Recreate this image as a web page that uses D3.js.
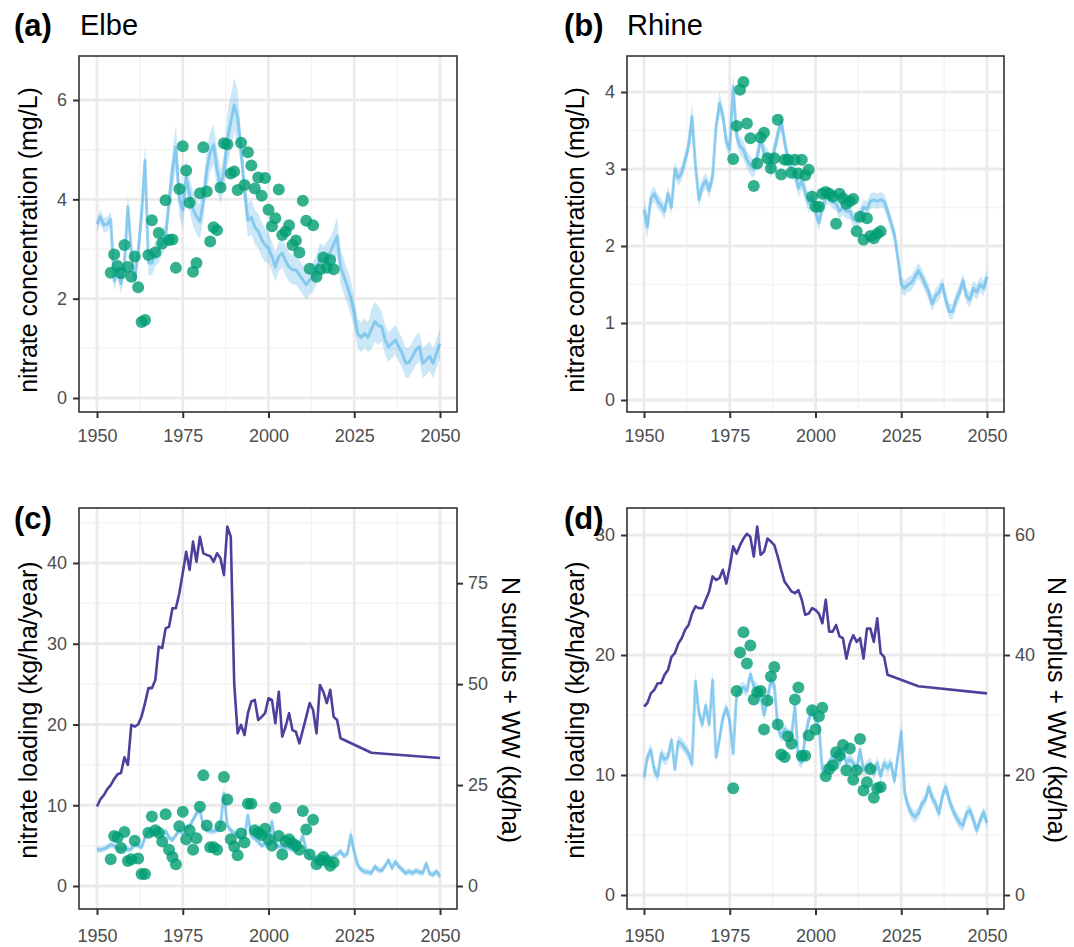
<!DOCTYPE html>
<html>
<head>
<meta charset="utf-8">
<script src="https://cdn.jsdelivr.net/npm/d3@7"></script>
<style>
	body { margin: 0; background: #fff; }
	svg text { font-family: "Liberation Sans", Arial, sans-serif; }
</style>
</head>
<body>
<svg id="chart" width="1074" height="947"></svg>
<script>
const years = d3.range(1950, 2051)

// (a) Elbe: modelled nitrate concentration (mg/L) and half-width of its band
const elbeConc = [
	3.5, 3.65, 3.48, 3.5, 3.6, 2.35, 2.62, 2.3, 2.7, 3.85,
	2.95, 2.38, 2.95, 3.7, 4.78, 2.72, 2.72, 2.9, 2.97, 3.15,
	3.25, 3.95, 4.6, 5.05, 4.0, 3.78, 4.45, 4.1, 3.8, 3.65,
	3.55, 3.95, 4.6, 4.95, 5.1, 4.6, 4.25, 4.55, 5.2, 5.55,
	5.9, 5.65, 5.0, 4.18, 3.58, 3.64, 3.44, 3.36, 3.2, 3.08,
	3.02, 2.85, 2.64, 2.85, 2.92, 2.76, 2.64, 2.58, 2.58, 2.48,
	2.38, 2.28, 2.38, 2.44, 2.58, 2.82, 2.76, 2.84, 2.94, 3.1,
	3.25, 2.64, 2.44, 2.24, 2.02, 1.7, 1.3, 1.22, 1.3, 1.22,
	1.38, 1.54, 1.46, 1.44, 1.17, 1.03, 1.1, 1.17, 1.03, 0.9,
	0.7, 0.72, 0.84, 0.97, 1.03, 0.7, 0.77, 0.84, 0.7, 0.9,
	1.1,
]
const elbeConcSpread = [
	0.15, 0.15, 0.15, 0.15, 0.15, 0.2, 0.2, 0.2, 0.2, 0.25,
	0.2, 0.2, 0.2, 0.3, 0.35, 0.25, 0.25, 0.25, 0.25, 0.25,
	0.25, 0.3, 0.4, 0.45, 0.35, 0.35, 0.35, 0.35, 0.35, 0.35,
	0.35, 0.35, 0.4, 0.4, 0.4, 0.4, 0.35, 0.35, 0.55, 0.55,
	0.55, 0.55, 0.35, 0.35, 0.35, 0.35, 0.35, 0.35, 0.35, 0.35,
	0.3, 0.3, 0.3, 0.3, 0.3, 0.3, 0.3, 0.3, 0.3, 0.3,
	0.3, 0.3, 0.3, 0.3, 0.3, 0.3, 0.3, 0.3, 0.3, 0.3,
	0.4, 0.35, 0.35, 0.35, 0.35, 0.3, 0.3, 0.3, 0.3, 0.3,
	0.4, 0.4, 0.4, 0.3, 0.3, 0.3, 0.3, 0.3, 0.3, 0.3,
	0.3, 0.3, 0.3, 0.3, 0.3, 0.3, 0.3, 0.3, 0.3, 0.3,
	0.3,
]
const elbeObsYears = d3.range(1954, 2020)
const elbeObsConc = [
	2.52, 2.89, 2.66, 2.51, 3.08, 2.64, 2.44, 2.85, 2.23, 1.53,
	1.57, 2.88, 3.58, 2.93, 3.32, 3.11, 3.98, 3.18, 3.19, 2.62,
	4.21, 5.07, 4.58, 3.93, 2.54, 2.72, 4.12, 5.05, 4.16, 3.15,
	3.44, 3.38, 4.24, 5.13, 5.11, 4.52, 4.56, 4.19, 5.14, 4.29,
	4.95, 4.68, 4.22, 4.44, 4.07, 4.43, 3.79, 3.46, 3.62, 4.2,
	3.28, 3.35, 3.48, 3.08, 3.17, 2.93, 3.97, 3.57, 2.6, 3.48,
	2.44, 2.59, 2.83, 2.62, 2.78, 2.59,
]

// (b) Rhine: modelled nitrate concentration (mg/L)
const rhineConc = [
	2.47, 2.25, 2.62, 2.68, 2.58, 2.52, 2.45, 2.68, 2.5, 3.0,
	2.88, 2.95, 3.12, 3.3, 3.68, 3.05, 2.6, 2.78, 2.85, 2.72,
	2.9, 3.55, 3.85, 3.7, 3.35, 3.25, 4.07, 3.42, 3.3, 3.25,
	3.12, 3.05, 3.0, 3.15, 3.4, 3.2, 3.15, 3.0, 3.25, 3.45,
	3.62, 3.35, 3.12, 3.0, 2.95, 2.75, 2.85, 2.7, 2.55, 2.65,
	2.45, 2.3, 2.5, 2.62, 2.65, 2.58, 2.55, 2.45, 2.5, 2.45,
	2.45, 2.35, 2.32, 2.4, 2.5, 2.48, 2.58, 2.6, 2.58, 2.6,
	2.58, 2.45, 2.3, 2.15, 1.85, 1.5, 1.45, 1.5, 1.52, 1.6,
	1.68, 1.6, 1.5, 1.4, 1.25, 1.35, 1.4, 1.5, 1.3, 1.15,
	1.15, 1.3, 1.4, 1.55, 1.35, 1.3, 1.45, 1.4, 1.5, 1.45,
	1.6,
]
const rhineConcSpread = [
	0.15, 0.15, 0.1, 0.1, 0.1, 0.1, 0.1, 0.1, 0.1, 0.1,
	0.1, 0.1, 0.1, 0.1, 0.2, 0.1, 0.1, 0.1, 0.1, 0.1,
	0.1, 0.1, 0.15, 0.1, 0.1, 0.1, 0.18, 0.12, 0.12, 0.12,
	0.12, 0.12, 0.12, 0.12, 0.12, 0.12, 0.12, 0.12, 0.12, 0.12,
	0.12, 0.12, 0.12, 0.12, 0.12, 0.12, 0.12, 0.12, 0.12, 0.12,
	0.1, 0.1, 0.1, 0.1, 0.1, 0.1, 0.1, 0.1, 0.1, 0.1,
	0.1, 0.1, 0.1, 0.1, 0.1, 0.1, 0.1, 0.1, 0.1, 0.1,
	0.1, 0.1, 0.1, 0.1, 0.1, 0.1, 0.1, 0.1, 0.1, 0.1,
	0.1, 0.1, 0.1, 0.1, 0.1, 0.1, 0.1, 0.1, 0.1, 0.1,
	0.1, 0.1, 0.1, 0.1, 0.1, 0.1, 0.1, 0.1, 0.1, 0.1,
	0.1,
]
const rhineObsYears = d3.range(1976, 2020)
const rhineObsConc = [
	3.13, 3.56, 4.03, 4.13, 3.59, 3.4, 2.78, 3.07, 3.41, 3.47,
	3.14, 3.01, 3.14, 3.64, 2.93, 3.12, 3.12, 2.95, 3.12, 2.94,
	3.12, 2.92, 2.99, 2.64, 2.51, 2.51, 2.68, 2.7, 2.68, 2.64,
	2.29, 2.68, 2.62, 2.55, 2.58, 2.61, 2.19, 2.38, 2.08, 2.36,
	2.13, 2.1, 2.16, 2.19,
]

// (c) Elbe: modelled nitrate loading (kg/ha/year)
const elbeLoad = [
	4.5, 4.5, 4.6, 4.8, 5.1, 5.0, 4.6, 4.5, 4.8, 4.5,
	4.6, 5.2, 5.0, 4.8, 6.0, 6.9, 6.3, 6.6, 6.9, 6.2,
	6.8, 6.0, 5.7, 6.3, 6.9, 6.5, 7.2, 7.4, 8.2, 9.0,
	9.4, 7.5, 6.9, 6.8, 6.8, 6.9, 7.5, 11.5, 7.5, 6.9,
	6.5, 6.3, 5.8, 6.0, 8.8, 6.2, 5.9, 5.5, 5.0, 5.2,
	5.0, 8.0, 5.1, 4.9, 4.8, 4.8, 4.7, 4.5, 4.4, 5.2,
	6.2, 4.5, 3.6, 3.4, 3.2, 3.2, 3.2, 3.3, 3.5, 3.6,
	3.9, 4.3, 3.7, 4.0, 6.3, 4.2, 2.6, 2.0, 1.8, 1.7,
	1.6, 2.4, 2.0, 1.9, 2.5, 3.2, 2.2, 3.0, 2.4, 2.0,
	1.6, 1.8, 1.6, 1.9, 1.7, 1.6, 2.8, 1.5, 1.4, 1.8,
	1.2,
]
const elbeLoadSpread = [
	0.4, 0.4, 0.4, 0.4, 0.4, 0.4, 0.4, 0.4, 0.4, 0.4,
	0.4, 0.4, 0.4, 0.4, 0.4, 0.4, 0.4, 0.4, 0.4, 0.4,
	0.4, 0.4, 0.4, 0.4, 0.4, 0.4, 0.4, 0.4, 0.4, 0.4,
	0.4, 0.4, 0.4, 0.4, 0.4, 0.4, 0.5, 0.9, 0.4, 0.4,
	0.4, 0.4, 0.4, 0.4, 0.4, 0.4, 0.4, 0.4, 0.4, 0.4,
	0.4, 0.6, 0.4, 0.4, 0.4, 0.4, 0.4, 0.4, 0.4, 0.4,
	0.6, 0.4, 0.4, 0.4, 0.4, 0.4, 0.4, 0.4, 0.4, 0.4,
	0.4, 0.4, 0.4, 0.4, 0.9, 0.4, 0.4, 0.4, 0.4, 0.4,
	0.4, 0.4, 0.4, 0.4, 0.4, 0.4, 0.4, 0.4, 0.4, 0.4,
	0.4, 0.4, 0.4, 0.4, 0.4, 0.4, 0.4, 0.4, 0.4, 0.4,
	0.4,
]
const elbeLoadObs = [
	3.3, 6.2, 6.0, 4.7, 6.7, 3.1, 3.3, 5.6, 3.4, 1.5,
	1.5, 6.6, 8.6, 6.9, 6.6, 5.5, 8.9, 4.5, 3.6, 2.7,
	7.4, 9.2, 5.8, 6.9, 4.5, 5.9, 9.8, 13.7, 7.5, 4.8,
	4.8, 4.5, 7.4, 13.5, 10.7, 5.8, 4.9, 3.8, 6.5, 5.4,
	10.2, 10.2, 6.9, 6.6, 6.3, 7.1, 5.8, 5.0, 9.7, 6.2,
	3.9, 5.5, 5.8, 5.3, 5.0, 4.5, 9.3, 7.0, 3.9, 8.2,
	2.7, 3.2, 3.6, 3.1, 2.5, 2.9,
]
// N surplus + waste water (kg/ha), right-hand axis
const elbeSurplusYears = [...d3.range(1950, 2022), 2030, 2050]
const elbeSurplus = [
	19.7, 21.5, 22.5, 24, 25, 26.5, 27.7, 28, 31.9, 30,
	39.9, 39.5, 40, 42, 45.3, 49, 49, 51, 59.3, 58.9,
	63.8, 64.2, 68.8, 68.8, 72.5, 77.5, 82.8, 78.3, 85.3, 80.3,
	86.5, 82.4, 82, 81.7, 80.3, 82.4, 81.2, 77, 89, 86.5,
	50.2, 37.8, 39.9, 37.4, 42.8, 45.7, 46.1, 41.1, 41.9, 42.8,
	46.5, 46.1, 40.3, 48.1, 37, 39.5, 42.8, 38.6, 38.2, 35.3,
	38.6, 41.9, 45.3, 43.6, 37.8, 49.8, 48.1, 45.3, 48.6, 41.9,
	41.1, 36.6, 33, 31.7,
]

// (d) Rhine: modelled nitrate loading (kg/ha/year)
const rhineLoad = [
	9.8, 11.5, 12.1, 10.4, 9.9, 11.8, 11.3, 11.5, 12.9, 10.5,
	12.8, 12.6, 12.2, 11.8, 10.9, 17.8, 15.2, 14.2, 15.8, 14.2,
	17.9, 11.5, 13.0, 14.8, 15.6, 14.5, 11.8, 16.8, 17.1, 17.3,
	17.0, 18.4, 17.4, 17.2, 16.6, 15.0, 16.3, 17.9, 17.5, 14.0,
	13.2, 13.8, 13.4, 13.2, 15.8, 11.3, 11.0, 13.2, 14.6, 15.4,
	14.6, 14.0, 10.4, 10.4, 11.0, 11.5, 11.0, 11.0, 12.1, 11.0,
	11.3, 11.0, 10.4, 12.1, 10.4, 10.7, 11.0, 10.1, 11.0, 9.9,
	11.0, 10.6, 11.0, 9.5, 11.5, 13.6, 8.5, 7.4, 6.8, 6.5,
	6.8, 7.6, 7.9, 9.0, 8.1, 7.6, 6.8, 8.3, 9.0, 7.9,
	7.1, 6.5, 6.0, 5.8, 6.8, 7.1, 6.3, 5.4, 6.2, 6.9,
	6.0,
]
const rhineLoadSpread = [
	0.5, 0.5, 0.5, 0.5, 0.5, 0.5, 0.5, 0.5, 0.5, 0.5,
	0.5, 0.5, 0.5, 0.5, 0.5, 0.9, 0.5, 0.5, 0.5, 0.5,
	0.9, 0.5, 0.5, 0.5, 0.5, 0.5, 0.5, 0.5, 0.5, 0.5,
	0.5, 0.5, 0.5, 0.5, 0.5, 0.5, 0.5, 0.5, 0.5, 0.5,
	0.5, 0.5, 0.5, 0.5, 0.5, 0.5, 0.5, 0.5, 0.5, 0.5,
	0.5, 0.5, 0.5, 0.5, 0.5, 0.5, 0.5, 0.5, 0.5, 0.5,
	0.5, 0.5, 0.5, 0.5, 0.5, 0.5, 0.5, 0.5, 0.5, 0.5,
	0.5, 0.5, 0.5, 0.5, 0.5, 0.9, 0.5, 0.5, 0.5, 0.5,
	0.5, 0.5, 0.5, 0.5, 0.5, 0.5, 0.5, 0.5, 0.5, 0.5,
	0.5, 0.5, 0.5, 0.5, 0.5, 0.5, 0.5, 0.5, 0.5, 0.5,
	0.5,
]
const rhineLoadObs = [
	8.9, 17.0, 20.2, 21.9, 19.3, 20.8, 16.3, 16.9, 17.0, 13.8,
	16.2, 18.2, 19.0, 14.2, 11.7, 11.5, 13.2, 12.6, 16.3, 17.3,
	11.6, 11.6, 13.3, 15.4, 13.8, 14.9, 15.6, 9.9, 10.5, 10.8,
	11.9, 11.6, 12.5, 10.4, 12.2, 9.6, 10.4, 13.0, 8.7, 9.4,
	10.5, 8.1, 8.9, 9.0,
]
const rhineSurplusYears = [...d3.range(1950, 2022), 2030, 2050]
const rhineSurplus = [
	31.4, 32, 33.6, 34.2, 35.3, 35.3, 36.7, 37.5, 39.7, 40.3,
	41.9, 42.8, 44.2, 45, 46.9, 48.1, 47.8, 47.8, 49.2, 50.6,
	53.1, 52.5, 52.8, 54.2, 51.9, 54.7, 58.1, 56.9, 58.3, 59.4,
	60.2, 59.7, 56.4, 61.4, 56.7, 57.2, 59.4, 58.9, 58.3, 56.4,
	54.2, 52.2, 51.4, 50.6, 50.3, 50.8, 49.2, 46.7, 46.9, 47.8,
	47.5, 46.9, 45.3, 49.2, 43.9, 43.9, 45, 43.1, 42.8, 39.4,
	41.9, 43.3, 42.2, 42.8, 39.4, 44.4, 44.4, 42.2, 46.1, 40.3,
	39.7, 36.7, 34.8, 33.6,
]

const xTicks = [1950, 1975, 2000, 2025, 2050]
const xMinor = [1962.5, 1987.5, 2012.5, 2037.5]


const config = {
	cols: [
		{ x0: 79, x1: 457, range: [97, 440], tagX: 14, titleX: 80, yLabelX: 28, secLabelX: 511 },
		{ x0: 627, x1: 1004, range: [644, 987], tagX: 564, titleX: 627, yLabelX: 575, secLabelX: 1057 },
	],
	rows: [
		{ y0: 56, y1: 412, tagY: 36, labelY: 240 },
		{ y0: 508, y1: 909, tagY: 529, labelY: 710 },
	],
	colour: {
		model: "#56B4E9",
		obs: "#009E73",
		surplus: "#4E3F9C",
		major: "#EBEBEB",
		minor: "#F3F3F3",
		border: "#333333",
		tickText: "#4D4D4D",
	},
	tickFont: 18,
	labelFont: 25,
	tagFont: 31,
	titleFont: 29,
	pointRadius: 6,
}

const panels = [
	{
		tag: "(a)", title: "Elbe", col: 0, row: 0,
		yRange: [398, 100], yTicks: [0, 2, 4, 6], yMinor: [1, 3, 5],
		yLabel: "nitrate concentration (mg/L)",
		mid: elbeConc, spread: elbeConcSpread, obsYears: elbeObsYears, obs: elbeObsConc,
	},
	{
		tag: "(b)", title: "Rhine", col: 1, row: 0,
		yRange: [400, 92], yTicks: [0, 1, 2, 3, 4], yMinor: [0.5, 1.5, 2.5, 3.5],
		yLabel: "nitrate concentration (mg/L)",
		mid: rhineConc, spread: rhineConcSpread, obsYears: rhineObsYears, obs: rhineObsConc,
	},
	{
		tag: "(c)", title: "", col: 0, row: 1,
		yRange: [886, 563], yTicks: [0, 10, 20, 30, 40], yMinor: [5, 15, 25, 35, 45],
		yLabel: "nitrate loading (kg/ha/year)",
		mid: elbeLoad, spread: elbeLoadSpread, obsYears: elbeObsYears, obs: elbeLoadObs,
		surplusYears: elbeSurplusYears, surplus: elbeSurplus, secTicks: [0, 25, 50, 75],
	},
	{
		tag: "(d)", title: "", col: 1, row: 1,
		yRange: [895, 535], yTicks: [0, 10, 20, 30], yMinor: [5, 15, 25],
		yLabel: "nitrate loading (kg/ha/year)",
		mid: rhineLoad, spread: rhineLoadSpread, obsYears: rhineObsYears, obs: rhineLoadObs,
		surplusYears: rhineSurplusYears, surplus: rhineSurplus, secTicks: [0, 20, 40, 60],
	},
]


const svg = d3.select("#chart")
svg.append("rect").attr("width", 1074).attr("height", 947).attr("fill", "#fff")
const defs = svg.append("defs")

panels.forEach((p, i) => drawPanel(p, i))


function drawPanel(p, i) {
	const col = config.cols[p.col]
	const row = config.rows[p.row]
	const c = config.colour

	const x = d3.scaleLinear().domain([1950, 2050]).range(col.range)
	// first tick value maps to yRange[0], last to yRange[1]
	const y = d3.scaleLinear()
		.domain([p.yTicks[0], p.yTicks[p.yTicks.length - 1]])
		.range(p.yRange)

	defs.append("clipPath")
		.attr("id", `clip_${i}`)
		.append("rect")
		.attr("x", col.x0)
		.attr("y", row.y0)
		.attr("width", col.x1 - col.x0)
		.attr("height", row.y1 - row.y0)

	const g = svg.append("g").attr("class", `panel_${i}`)
	const plot = g.append("g").attr("clip-path", `url(#clip_${i})`)

	// Grid: minor first, then major
	plot.selectAll("line.xminor")
		.data(xMinor)
		.join("line")
		.attr("class", "xminor")
		.attr("x1", d => x(d)).attr("x2", d => x(d))
		.attr("y1", row.y0).attr("y2", row.y1)
		.attr("stroke", c.minor).attr("stroke-width", 1.4)
	plot.selectAll("line.yminor")
		.data(p.yMinor)
		.join("line")
		.attr("class", "yminor")
		.attr("x1", col.x0).attr("x2", col.x1)
		.attr("y1", d => y(d)).attr("y2", d => y(d))
		.attr("stroke", c.minor).attr("stroke-width", 1.4)
	plot.selectAll("line.xmajor")
		.data(xTicks)
		.join("line")
		.attr("class", "xmajor")
		.attr("x1", d => x(d)).attr("x2", d => x(d))
		.attr("y1", row.y0).attr("y2", row.y1)
		.attr("stroke", c.major).attr("stroke-width", 2.8)
	plot.selectAll("line.ymajor")
		.data(p.yTicks)
		.join("line")
		.attr("class", "ymajor")
		.attr("x1", col.x0).attr("x2", col.x1)
		.attr("y1", d => y(d)).attr("y2", d => y(d))
		.attr("stroke", c.major).attr("stroke-width", 2.8)

	// Model band and median
	const model = years.map((yr, j) => ({
		yr,
		mid: p.mid[j],
		lo: p.mid[j] - p.spread[j],
		hi: p.mid[j] + p.spread[j],
	}))
	plot.append("path")
		.datum(model)
		.attr("d", d3.area()
			.x(d => x(d.yr))
			.y0(d => y(d.lo))
			.y1(d => y(d.hi)))
		.attr("fill", c.model)
		.attr("fill-opacity", 0.3)
	plot.append("path")
		.datum(model)
		.attr("d", d3.line()
			.x(d => x(d.yr))
			.y(d => y(d.mid)))
		.attr("fill", "none")
		.attr("stroke", c.model)
		.attr("stroke-opacity", 0.6)
		.attr("stroke-width", 3)
		.attr("stroke-linejoin", "round")

	// N surplus line on the secondary axis (secondary = 2 x primary)
	let ySec = null
	if (p.surplus) {
		ySec = d3.scaleLinear()
			.domain(y.domain().map(v => v * 2))
			.range(y.range())
		plot.append("path")
			.datum(p.surplusYears.map((yr, j) => ({ yr, v: p.surplus[j] })))
			.attr("d", d3.line()
				.x(d => x(d.yr))
				.y(d => ySec(d.v)))
			.attr("fill", "none")
			.attr("stroke", c.surplus)
			.attr("stroke-width", 2.6)
			.attr("stroke-linejoin", "round")
	}

	// Observations
	plot.selectAll("circle.obs")
		.data(p.obsYears.map((yr, j) => ({ yr, v: p.obs[j] })))
		.join("circle")
		.attr("class", "obs")
		.attr("cx", d => x(d.yr))
		.attr("cy", d => y(d.v))
		.attr("r", config.pointRadius)
		.attr("fill", c.obs)
		.attr("fill-opacity", 0.8)

	// Panel border
	g.append("rect")
		.attr("x", col.x0)
		.attr("y", row.y0)
		.attr("width", col.x1 - col.x0)
		.attr("height", row.y1 - row.y0)
		.attr("fill", "none")
		.attr("stroke", c.border)
		.attr("stroke-width", 1.6)

	// Axes
	const xAxis = g.append("g")
		.attr("transform", `translate(0,${row.y1})`)
		.call(d3.axisBottom(x)
			.tickValues(xTicks)
			.tickFormat(d3.format("d"))
			.tickSize(6)
			.tickPadding(11 + p.row * 3))
	const yAxis = g.append("g")
		.attr("transform", `translate(${col.x0},0)`)
		.call(d3.axisLeft(y)
			.tickValues(p.yTicks)
			.tickFormat(d3.format("d"))
			.tickSize(6)
			.tickPadding(6))
	const axes = [xAxis, yAxis]
	if (ySec) {
		axes.push(g.append("g")
			.attr("transform", `translate(${col.x1},0)`)
			.call(d3.axisRight(ySec)
				.tickValues(p.secTicks)
				.tickFormat(d3.format("d"))
				.tickSize(6)
				.tickPadding(5)))
	}
	axes.forEach(a => {
		a.select(".domain").remove()
		a.attr("font-family", null).attr("font-size", null)
		a.selectAll(".tick line")
			.attr("stroke", c.border)
			.attr("stroke-width", 2)
		a.selectAll(".tick text")
			.attr("fill", c.tickText)
			.style("font-size", `${config.tickFont}px`)
	})

	// Axis titles
	g.append("text")
		.text(p.yLabel)
		.attr("transform", `translate(${col.yLabelX},${row.labelY}) rotate(-90)`)
		.attr("text-anchor", "middle")
		.attr("dominant-baseline", "central")
		.style("font-size", `${config.labelFont}px`)
	if (ySec) {
		g.append("text")
			.text("N surplus + WW (kg/ha)")
			.attr("transform", `translate(${col.secLabelX},${row.labelY}) rotate(90)`)
			.attr("text-anchor", "middle")
			.attr("dominant-baseline", "central")
			.style("font-size", `${config.labelFont}px`)
	}

	// Tag and title
	g.append("text")
		.text(p.tag)
		.attr("x", col.tagX)
		.attr("y", row.tagY)
		.style("font-size", `${config.tagFont}px`)
		.style("font-weight", "bold")
	if (p.title)
		g.append("text")
			.text(p.title)
			.attr("x", col.titleX)
			.attr("y", row.tagY - 1)
			.style("font-size", `${config.titleFont}px`)
}
</script>
</body>
</html>
